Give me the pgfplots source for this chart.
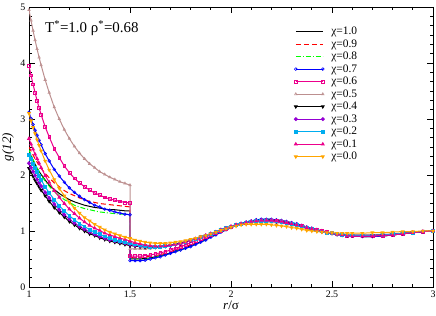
\documentclass[border=0pt]{standalone}
\usepackage{fontspec}
\setmainfont{Liberation Serif}
\usepackage{pgfplots}
\usepackage{pgfplotstable}
\pgfplotsset{compat=1.18}
\definecolor{grbrown}{RGB}{188,143,143}
\definecolor{grviolet}{RGB}{148,0,211}
\definecolor{grorange}{RGB}{255,165,0}
\definecolor{grgreen}{RGB}{0,255,0}
\pgfplotstableread{
r c10 c09 c08 c07 c06 c05 c04 c03 c02 c01 c00
1.000 2.42 2.50 2.45 3.12 3.95 4.95 2.12 2.21 2.36 2.65 3.10
1.010 2.34 2.43 2.36 3.01 3.78 4.76 2.05 2.13 2.28 2.55 2.97
1.020 2.26 2.36 2.28 2.90 3.62 4.58 1.98 2.06 2.20 2.46 2.85
1.030 2.19 2.29 2.20 2.80 3.47 4.41 1.91 1.99 2.12 2.37 2.74
1.040 2.12 2.23 2.13 2.71 3.33 4.25 1.85 1.92 2.05 2.29 2.63
1.050 2.06 2.18 2.06 2.62 3.20 4.10 1.79 1.86 1.98 2.21 2.53
1.060 2.01 2.12 2.00 2.54 3.08 3.96 1.73 1.80 1.91 2.13 2.43
1.080 1.91 2.03 1.89 2.38 2.86 3.70 1.63 1.69 1.79 1.99 2.25
1.100 1.82 1.95 1.80 2.25 2.68 3.47 1.53 1.59 1.68 1.87 2.09
1.125 1.74 1.86 1.70 2.10 2.47 3.21 1.42 1.48 1.56 1.72 1.92
1.150 1.67 1.79 1.63 1.98 2.31 3.00 1.33 1.38 1.45 1.60 1.76
1.175 1.61 1.72 1.56 1.87 2.16 2.81 1.25 1.29 1.36 1.49 1.63
1.200 1.56 1.67 1.51 1.77 2.04 2.65 1.17 1.21 1.27 1.39 1.51
1.225 1.52 1.63 1.46 1.69 1.94 2.51 1.11 1.14 1.20 1.31 1.41
1.250 1.49 1.59 1.43 1.62 1.86 2.39 1.05 1.08 1.13 1.23 1.32
1.275 1.46 1.56 1.40 1.56 1.79 2.29 1.00 1.03 1.08 1.16 1.24
1.300 1.44 1.53 1.38 1.51 1.73 2.20 0.95 0.98 1.02 1.10 1.18
1.325 1.42 1.51 1.36 1.46 1.68 2.13 0.92 0.94 0.98 1.05 1.12
1.350 1.41 1.49 1.34 1.43 1.64 2.06 0.88 0.90 0.94 1.01 1.07
1.375 1.39 1.48 1.33 1.39 1.60 2.01 0.85 0.87 0.90 0.96 1.02
1.400 1.38 1.47 1.32 1.37 1.57 1.96 0.82 0.84 0.87 0.93 0.98
1.425 1.38 1.46 1.31 1.34 1.55 1.92 0.80 0.82 0.84 0.90 0.95
1.450 1.37 1.45 1.30 1.32 1.53 1.88 0.78 0.80 0.82 0.87 0.92
1.475 1.36 1.44 1.30 1.30 1.51 1.85 0.76 0.78 0.80 0.85 0.89
1.500 1.36 1.43 1.29 1.29 1.50 1.82 0.74 0.76 0.78 0.82 0.87
1.500 0.50 0.53 0.48 0.47 0.55 0.68 0.74 0.76 0.78 0.82 0.87
1.525 0.50 0.53 0.48 0.47 0.55 0.68 0.73 0.74 0.76 0.79 0.84
1.550 0.50 0.53 0.48 0.47 0.55 0.68 0.72 0.73 0.74 0.77 0.82
1.575 0.51 0.54 0.49 0.48 0.56 0.68 0.71 0.72 0.73 0.75 0.80
1.600 0.52 0.55 0.51 0.50 0.57 0.69 0.71 0.72 0.72 0.74 0.79
1.625 0.54 0.56 0.53 0.52 0.59 0.70 0.71 0.72 0.72 0.73 0.78
1.650 0.56 0.58 0.55 0.54 0.61 0.71 0.72 0.72 0.72 0.73 0.78
1.675 0.58 0.60 0.57 0.57 0.63 0.72 0.73 0.73 0.73 0.74 0.78
1.700 0.61 0.63 0.60 0.60 0.66 0.74 0.74 0.74 0.74 0.75 0.79
1.725 0.64 0.66 0.63 0.63 0.69 0.76 0.76 0.76 0.76 0.76 0.80
1.750 0.67 0.69 0.66 0.66 0.72 0.78 0.78 0.78 0.78 0.78 0.81
1.775 0.70 0.72 0.69 0.69 0.75 0.80 0.80 0.80 0.80 0.80 0.83
1.800 0.74 0.75 0.73 0.72 0.79 0.83 0.83 0.83 0.83 0.83 0.85
1.825 0.77 0.78 0.76 0.76 0.82 0.86 0.86 0.86 0.86 0.86 0.87
1.850 0.81 0.82 0.80 0.80 0.86 0.89 0.89 0.89 0.89 0.89 0.90
1.875 0.85 0.86 0.84 0.84 0.89 0.92 0.92 0.92 0.92 0.92 0.92
1.900 0.90 0.90 0.89 0.89 0.93 0.95 0.95 0.95 0.95 0.95 0.95
1.925 0.94 0.94 0.93 0.93 0.96 0.98 0.98 0.98 0.98 0.98 0.98
1.950 0.98 0.98 0.98 0.98 1.00 1.01 1.02 1.02 1.02 1.02 1.01
1.975 1.02 1.02 1.02 1.02 1.03 1.04 1.05 1.05 1.05 1.05 1.04
2.000 1.06 1.06 1.06 1.06 1.07 1.07 1.08 1.08 1.08 1.08 1.07
2.025 1.10 1.10 1.10 1.10 1.10 1.10 1.11 1.11 1.11 1.11 1.09
2.050 1.13 1.13 1.13 1.13 1.13 1.12 1.13 1.13 1.13 1.13 1.11
2.075 1.16 1.16 1.16 1.16 1.15 1.14 1.15 1.15 1.15 1.15 1.12
2.100 1.18 1.18 1.18 1.18 1.17 1.15 1.17 1.17 1.17 1.17 1.12
2.125 1.19 1.19 1.20 1.20 1.18 1.16 1.18 1.18 1.18 1.18 1.12
2.150 1.20 1.20 1.21 1.21 1.19 1.16 1.18 1.18 1.18 1.19 1.12
2.175 1.20 1.20 1.21 1.21 1.19 1.16 1.18 1.18 1.18 1.19 1.12
2.200 1.20 1.20 1.21 1.21 1.19 1.16 1.18 1.18 1.18 1.19 1.11
2.225 1.19 1.19 1.20 1.20 1.18 1.15 1.17 1.17 1.17 1.18 1.10
2.250 1.18 1.18 1.19 1.19 1.17 1.14 1.16 1.16 1.16 1.17 1.09
2.275 1.16 1.16 1.17 1.17 1.15 1.13 1.14 1.14 1.14 1.15 1.08
2.300 1.14 1.14 1.15 1.15 1.13 1.11 1.12 1.12 1.12 1.13 1.06
2.325 1.12 1.12 1.13 1.13 1.11 1.09 1.10 1.10 1.10 1.11 1.05
2.350 1.10 1.10 1.10 1.10 1.09 1.07 1.08 1.08 1.08 1.09 1.03
2.375 1.07 1.07 1.07 1.07 1.06 1.05 1.05 1.05 1.05 1.06 1.01
2.400 1.05 1.05 1.05 1.05 1.04 1.03 1.03 1.03 1.03 1.04 1.00
2.425 1.02 1.02 1.02 1.02 1.02 1.01 1.01 1.01 1.01 1.02 0.99
2.450 1.00 1.00 1.00 1.00 1.00 0.99 0.99 0.99 0.99 1.00 0.98
2.475 0.98 0.98 0.98 0.98 0.98 0.97 0.97 0.97 0.97 0.98 0.97
2.500 0.96 0.96 0.96 0.96 0.96 0.96 0.96 0.96 0.96 0.96 0.97
2.525 0.94 0.94 0.94 0.94 0.94 0.95 0.94 0.94 0.94 0.94 0.96
2.550 0.93 0.93 0.93 0.93 0.93 0.94 0.93 0.93 0.93 0.93 0.96
2.575 0.92 0.92 0.92 0.92 0.92 0.93 0.92 0.92 0.92 0.92 0.96
2.600 0.91 0.91 0.91 0.91 0.91 0.93 0.92 0.92 0.92 0.91 0.96
2.650 0.90 0.90 0.90 0.90 0.91 0.93 0.92 0.92 0.92 0.91 0.96
2.700 0.90 0.90 0.90 0.90 0.91 0.93 0.92 0.92 0.92 0.91 0.97
2.750 0.91 0.91 0.91 0.91 0.92 0.94 0.93 0.93 0.93 0.92 0.97
2.800 0.93 0.93 0.93 0.93 0.93 0.95 0.94 0.94 0.94 0.93 0.98
2.850 0.95 0.95 0.95 0.95 0.95 0.96 0.96 0.96 0.96 0.95 0.99
2.900 0.97 0.97 0.97 0.97 0.97 0.98 0.97 0.97 0.97 0.97 0.99
2.950 0.99 0.99 0.99 0.99 0.99 0.99 0.99 0.99 0.99 0.99 1.00
3.000 1.00 1.00 1.00 1.00 1.00 1.00 1.00 1.00 1.00 1.00 1.00
}\gdata
\begin{document}
\begin{tikzpicture}
\begin{axis}[
  scale only axis, width=404bp, height=280bp,
  xmin=1, xmax=3, ymin=0, ymax=5,
  xtick={1,1.5,2,2.5,3}, ytick={0,1,2,3,4,5},
  minor x tick num=4, minor y tick num=5,
  tick align=inside, xtick pos=both, ytick pos=both,
  major tick length=6bp, minor tick length=3bp,
  every tick/.style={black, line width=0.7bp},
  axis line style={line width=0.8bp},
  /pgf/number format/assume math mode=true,
  tick label style={font=\fontsize{10}{12}\selectfont},
  xlabel={\textit{r}/σ}, ylabel={\textit{g(12)}},
  label style={font=\fontsize{13}{15}\selectfont},
  x label style={at={(axis description cs:0.5,-0.064)}, anchor=center},
  y label style={at={(axis description cs:-0.052,0.5)}, anchor=center},
  legend style={at={(axis description cs:0.649,0.94)}, anchor=north west,
    draw=none, fill=none, font=\fontsize{11.5}{13}\selectfont,
    row sep=1.4bp, nodes={inner sep=1bp}},
  legend cell align=left,
  legend image code/.code={\draw[mark repeat=2,mark phase=1,#1] plot coordinates {(0bp,0bp) (13.5bp,0bp) (27bp,0bp)}; \path (34bp,0bp);},
  every axis plot/.append style={line width=1bp, mark size=1.4bp},
]
\coordinate (bl) at (rel axis cs:0,0);
\coordinate (tr) at (rel axis cs:1,1);
\addplot[black, no markers] table[x=r,y=c10]{\gdata};
\addlegendentry{χ=1.0}
\addplot[red, dash pattern=on 5bp off 3bp, no markers] table[x=r,y=c09]{\gdata};
\addlegendentry{χ=0.9}
\addplot[grgreen, dash pattern=on 5bp off 2bp on 1bp off 2bp, no markers] table[x=r,y=c08]{\gdata};
\addlegendentry{χ=0.8}
\addplot[blue, mark=o, mark options={solid, line width=0.6bp}] table[x=r,y=c07]{\gdata};
\addlegendentry{χ=0.7}
\addplot[magenta, mark=square, mark options={solid, line width=0.6bp}] table[x=r,y=c06]{\gdata};
\addlegendentry{χ=0.6}
\addplot[grbrown, mark=triangle, mark options={solid, line width=0.6bp}] table[x=r,y=c05]{\gdata};
\addlegendentry{χ=0.5}
\addplot[black, mark=triangle*, mark options={solid, rotate=180}] table[x=r,y=c04]{\gdata};
\addlegendentry{χ=0.4}
\addplot[grviolet, mark=*, mark options={solid}] table[x=r,y=c03]{\gdata};
\addlegendentry{χ=0.3}
\addplot[cyan, mark=square*, mark options={solid}] table[x=r,y=c02]{\gdata};
\addlegendentry{χ=0.2}
\addplot[magenta, mark=triangle*, mark options={solid}] table[x=r,y=c01]{\gdata};
\addlegendentry{χ=0.1}
\addplot[grorange, mark=triangle*, mark options={solid, rotate=180}] table[x=r,y=c00]{\gdata};
\addlegendentry{χ=0.0}
\node[anchor=base west, inner sep=0, font=\fontsize{15}{18}\selectfont] at (axis cs:1.079,4.54) {T\textsuperscript{*}=1.0 ρ\textsuperscript{*}=0.68};
\end{axis}
\pgfresetboundingbox
\useasboundingbox ([shift={(-29bp,-29bp)}]bl) rectangle ([shift={(3bp,7bp)}]tr);
\end{tikzpicture}
\end{document}
